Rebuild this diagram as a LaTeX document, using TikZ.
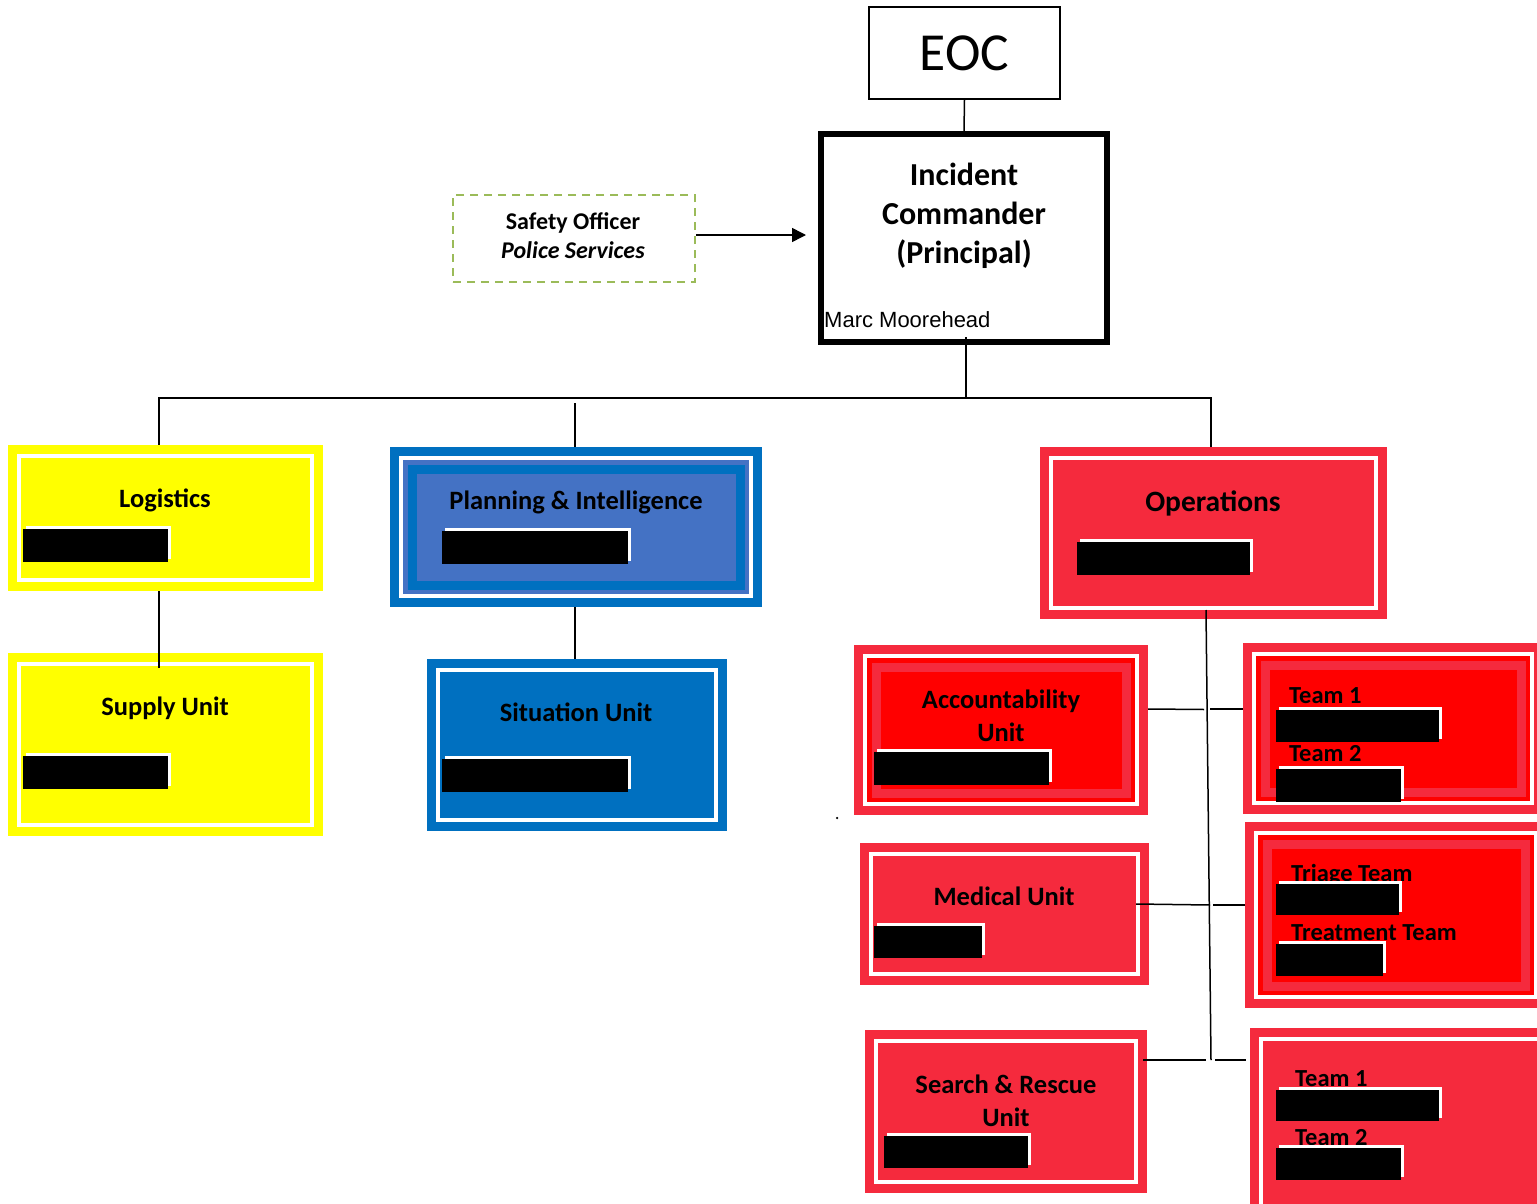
\documentclass[tikz,border=0pt]{standalone}
\usepackage{fontspec}
\setmainfont{Carlito}
\newfontfamily\arialfont{Liberation Sans}
\usetikzlibrary{arrows.meta,calc}
\definecolor{yel}{HTML}{FFFF00}
\definecolor{blu}{HTML}{0070C0}
\definecolor{lblu}{HTML}{4472C4}
\definecolor{reda}{HTML}{F52A3D}
\definecolor{redb}{HTML}{FF0000}
\definecolor{sgreen}{HTML}{9BBB59}
\newcommand\redact[4]{%
  \fill[white] (#1+3,#2-3) rectangle (#3+3,#4-3);
  \fill[black] (#1,#2) rectangle (#3,#4);}
\tikzset{
  boxbase/.style={inner sep=0, outer sep=0, anchor=north west, draw=none},
  simplebox/.style={boxbase, fill=#1,
    path picture={\draw[white,line width=4pt]
      ([shift={(11pt,11pt)}]path picture bounding box.south west) rectangle
      ([shift={(-11pt,-11pt)}]path picture bounding box.north east);}},
  layerbox/.style 2 args={boxbase, fill=#1,
    path picture={\draw[white,line width=4pt]
      ([shift={(11pt,11pt)}]path picture bounding box.south west) rectangle
      ([shift={(-11pt,-11pt)}]path picture bounding box.north east);
      \fill[#2]
      ([shift={(13pt,13pt)}]path picture bounding box.south west) rectangle
      ([shift={(-13pt,-13pt)}]path picture bounding box.north east);
      \draw[#1,line width=9pt]
      ([shift={(22pt,22pt)}]path picture bounding box.south west) rectangle
      ([shift={(-22pt,-22pt)}]path picture bounding box.north east);}},
  lbl/.style={font=\fontsize{26.5}{33}\selectfont\bfseries, align=center, inner sep=0},
  bigl/.style={font=\fontsize{29.5}{33}\selectfont\bfseries, inner sep=0},
  teaml/.style={font=\fontsize{24.5}{27}\selectfont\bfseries, inner sep=0, anchor=base west},
  conn/.style={draw=black, line width=1.5pt},
}
\begin{document}
\begin{tikzpicture}[x=1pt,y=-1pt]
\useasboundingbox (0,0) rectangle (1537,1204);
\clip (0,0) rectangle (1537,1204);

% top nodes
\node[draw, line width=1.5pt, minimum width=191pt, minimum height=92pt, inner sep=0,
      font=\fontsize{53.5}{60}\selectfont] (eoc) at (964.5,53) {EOC};
\node[draw, line width=6pt, minimum width=286pt, minimum height=208pt, inner sep=0] (ic) at (964,238) {};
\node[font=\fontsize{32}{39}\selectfont\bfseries, align=center, inner sep=0] (ict) at (964,216) {Incident\\Commander\\(Principal)};
\node[font=\arialfont\fontsize{22}{25}\selectfont, anchor=base west, inner sep=0] (marc) at (824,327) {Marc Moorehead};

\node[draw=sgreen, line width=2pt, dash pattern=on 8pt off 6pt, minimum width=242pt, minimum height=87pt, inner sep=0] (so) at (574,238.5) {};
\node[font=\fontsize{24}{29}\selectfont\bfseries, align=center, inner sep=0] (sot) at (573,236) {Safety Officer\\\textit{Police Services}};

% boxes
\node[simplebox=yel, minimum width=315pt, minimum height=146pt] (logi) at (8,445) {};
\node[simplebox=yel, minimum width=315pt, minimum height=183pt] (supply) at (8,653) {};
\node[layerbox={blu}{lblu}, minimum width=372pt, minimum height=160pt] (plan) at (390,447) {};
\node[simplebox=blu, minimum width=300pt, minimum height=172pt] (sit) at (427,659) {};
\node[simplebox=reda, minimum width=347pt, minimum height=172pt] (ops) at (1040,447) {};
\node[layerbox={reda}{redb}, minimum width=294pt, minimum height=170pt] (acc) at (854,645) {};
\node[simplebox=reda, minimum width=289pt, minimum height=142pt] (med) at (860,843) {};
\node[simplebox=reda, minimum width=282pt, minimum height=163pt] (sar) at (865,1030) {};
\node[layerbox={reda}{redb}, minimum width=300pt, minimum height=171pt] (team1) at (1243,643) {};
\node[layerbox={reda}{redb}, minimum width=302pt, minimum height=186pt] (triage) at (1245,822) {};
\node[simplebox=reda, minimum width=310pt, minimum height=190pt] (team3) at (1250,1028) {};

% labels
\node[lbl, anchor=base] (logit) at (165,507.5) {Logistics};
\node[lbl, anchor=base] (supplyt) at (165,715.5) {Supply Unit};
\node[lbl, anchor=base] (plant) at (576,509.5) {Planning \& Intelligence};
\node[lbl, anchor=base] (sitt) at (576,721.5) {Situation Unit};
\node[bigl, anchor=base] (opst) at (1213,511.5) {Operations};
\node[lbl] (acct) at (1001,716) {Accountability\\Unit};
\node[lbl, anchor=base] (medt) at (1004,905.5) {Medical Unit};
\node[lbl] (sart) at (1006,1101) {Search \& Rescue\\Unit};
\node[teaml] (t1a) at (1289,703.5) {Team 1};
\node[teaml] (t1b) at (1289,761.5) {Team 2};
\node[teaml] (tra) at (1291,881.5) {Triage Team};
\node[teaml] (trb) at (1291,940.5) {Treatment Team};
\node[teaml] (t3a) at (1295,1086.5) {Team 1};
\node[teaml] (t3b) at (1295,1145.5) {Team 2};
\node[circle, fill=black, inner sep=0, minimum size=2.5pt] (stray) at (837,818) {};

% redaction bars
\redact{23}{529}{168}{562}
\redact{23}{756}{168}{789}
\redact{442}{531}{628}{564}
\redact{442}{759}{628}{792}
\redact{1077}{542}{1250}{575}
\redact{874}{752}{1049}{785}
\redact{874}{926}{982}{958}
\redact{884}{1136}{1028}{1168}
\redact{1276}{710}{1439}{742}
\redact{1276}{769}{1401}{802}
\redact{1276}{884}{1399}{915}
\redact{1276}{944}{1383}{976}
\redact{1276}{1090}{1439}{1121}
\redact{1276}{1148}{1401}{1180}

% connectors
\draw[conn] (eoc.south) -- (ic.north);
\draw[-{Triangle[length=14pt,width=14pt]}, line width=1.5pt, shorten >=12pt] ([yshift=3.5pt]so.east) -- ([yshift=3.5pt]so.east -| ic.west);
\coordinate (icb) at (966,337);
\coordinate (bus) at (966,398);
\draw[conn] (icb) -- (bus);
\draw[conn] (bus) -| ([xshift=-2.5pt]ops.north);
\draw[conn] (bus) -| ([xshift=-6.5pt]logi.north);
\coordinate (pbus) at (575,403);
\draw[conn] (pbus) -- (pbus |- plan.north);
\draw[conn] ([xshift=-6.5pt]logi.south) -- ([xshift=-6.5pt,yshift=-15pt]supply.north);
\draw[conn] ([xshift=-1pt]plan.south) -- ([xshift=-2pt]sit.north);
\coordinate (opsend) at (1211,1060);
\draw[conn] (1206,610) -- (opsend);
\coordinate (j1l) at (1204,709.5);
\coordinate (j1r) at (1210,709);
\draw[conn] ([yshift=21pt]acc.east) -- (j1l);
\draw[conn] (j1r) -- ([yshift=19.5pt]team1.west);
\coordinate (j2l) at (1210,905);
\coordinate (j2r) at (1213,905);
\draw[conn] ([xshift=-13pt,yshift=10pt]med.east) -- (j2l);
\draw[conn] (j2r) -- ([yshift=10pt]triage.west);
\coordinate (j3l) at (1206,1060);
\coordinate (j3r) at (1215,1060);
\draw[conn] ([xshift=-4pt,yshift=51.5pt]sar.east) -- (j3l);
\draw[conn] (j3r) -- ([xshift=-4pt]j3r -| team3.west);
\end{tikzpicture}
\end{document}
